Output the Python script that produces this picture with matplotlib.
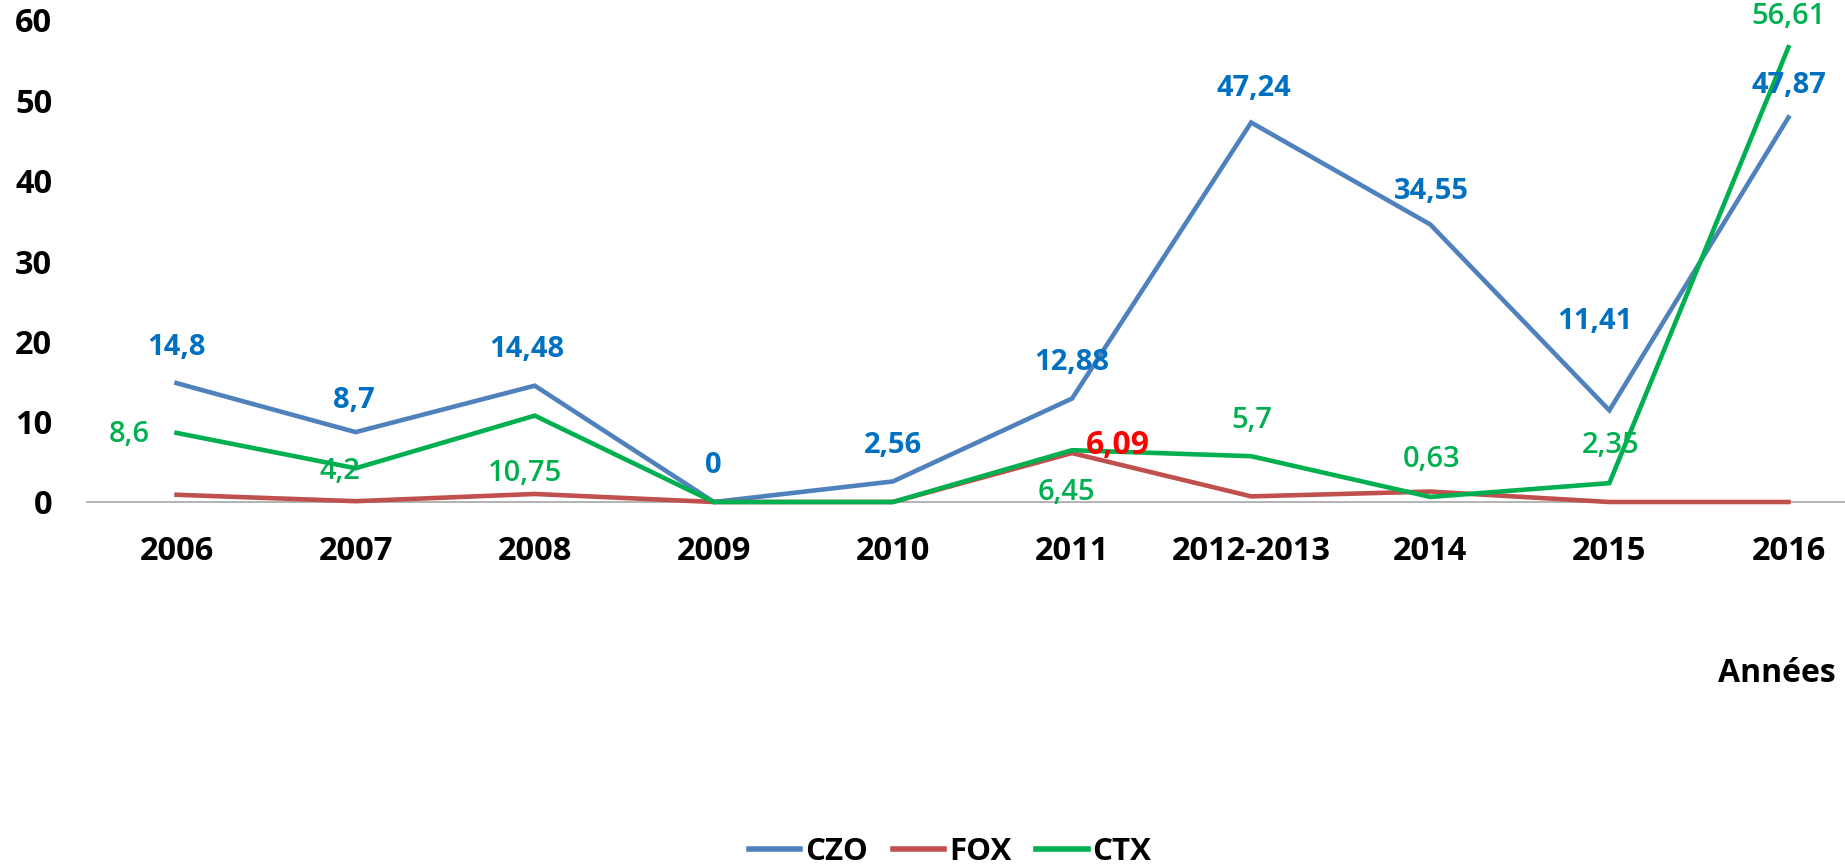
import matplotlib
matplotlib.use("Agg")
import matplotlib.pyplot as plt

# ---- data ----
categories = ["2006", "2007", "2008", "2009", "2010", "2011", "2012-2013", "2014", "2015", "2016"]
czo = [14.8, 8.7, 14.48, 0, 2.56, 12.88, 47.24, 34.55, 11.41, 47.87]
fox = [0.9, 0.1, 1.0, 0, 0, 6.09, 0.7, 1.3, 0, 0]
ctx = [8.6, 4.2, 10.75, 0, 0, 6.45, 5.7, 0.63, 2.35, 56.61]
yticks = [0, 10, 20, 30, 40, 50, 60]

# label offsets in pixels (style only)
czo_off = [(0, 36), (-2, 32), (-8, 36), (-1, 37), (0, 36), (0, 36), (3, 34), (1, 33), (-14, 89), (0, 32)]
ctx_off = [(-47, -2), (-16, -3), (-10, -58), None, None, (-6, -42), (1, 36), (1, 37), (1, 38), (0, 31)]
fox_labels = {5: (46, 8)}

FONT = "Open Sans"
plt.rcParams["font.family"] = [FONT, "DejaVu Sans"]

C_BLUE = "#4F81BD"
C_RED = "#C0504D"
C_GREEN = "#00B050"
L_BLUE = "#0070C0"

fig = plt.figure(figsize=(18.45, 8.66), dpi=100)
ax = fig.add_axes([87 / 1845, 1 - 502 / 866, (1878 - 87) / 1845, (502 - 20) / 866])

x = list(range(len(categories)))
lw = 3.3
ax.plot(x, czo, color=C_BLUE, lw=lw, label="CZO", clip_on=False, solid_joinstyle="miter", zorder=3)
ax.plot(x, fox, color=C_RED, lw=lw, label="FOX", clip_on=False, solid_joinstyle="miter", zorder=3)
ax.plot(x, ctx, color=C_GREEN, lw=lw, label="CTX", clip_on=False, solid_joinstyle="miter", zorder=4)

ax.set_xlim(-0.5, len(categories) - 0.5)
ax.set_ylim(0, 60)
ax.set_yticks(yticks)
ax.set_yticklabels([str(t) for t in yticks])
ax.set_xticks(x)
ax.set_xticklabels(categories)
ax.tick_params(axis="both", length=0, labelsize=23.5)
ax.tick_params(axis="x", pad=24)
ax.tick_params(axis="y", pad=25)
for lab in ax.get_xticklabels() + ax.get_yticklabels():
    lab.set_fontweight("bold")
for s in ["left", "top", "right"]:
    ax.spines[s].set_visible(False)
ax.spines["bottom"].set_color("#A6A6A6")
ax.spines["bottom"].set_linewidth(1.2)


def fmt(v):
    return f"{v:g}".replace(".", ",")


for i, v in enumerate(czo):
    dx, dy = czo_off[i]
    ax.annotate(fmt(v), (i, v), xytext=(dx, dy), textcoords="offset pixels",
                ha="center", va="center", color=L_BLUE, fontsize=21, fontweight="bold", zorder=5)
for i, v in enumerate(ctx):
    if ctx_off[i] is None:
        continue
    dx, dy = ctx_off[i]
    ax.annotate(fmt(v), (i, v), xytext=(dx, dy), textcoords="offset pixels",
                ha="center", va="center", color=C_GREEN, fontsize=21, fontweight="semibold", zorder=5)
for i, (dx, dy) in fox_labels.items():
    ax.annotate(fmt(fox[i]), (i, fox[i]), xytext=(dx, dy), textcoords="offset pixels",
                ha="center", va="center", color="#FF0000", fontsize=23, fontweight="bold", zorder=6)

fig.text(1777 / 1845, 1 - 673 / 866, "Années", ha="center", va="center",
         fontsize=23, fontweight="bold")

leg = fig.legend(loc="center", bbox_to_anchor=(950 / 1845, 1 - 852 / 866), ncol=3,
                 frameon=False, handlelength=1.65, handletextpad=0.15,
                 columnspacing=0.8, prop={"weight": "bold", "size": 22.5})
for h in leg.get_lines():
    h.set_linewidth(4)

fig.savefig("out.png", dpi=100)
